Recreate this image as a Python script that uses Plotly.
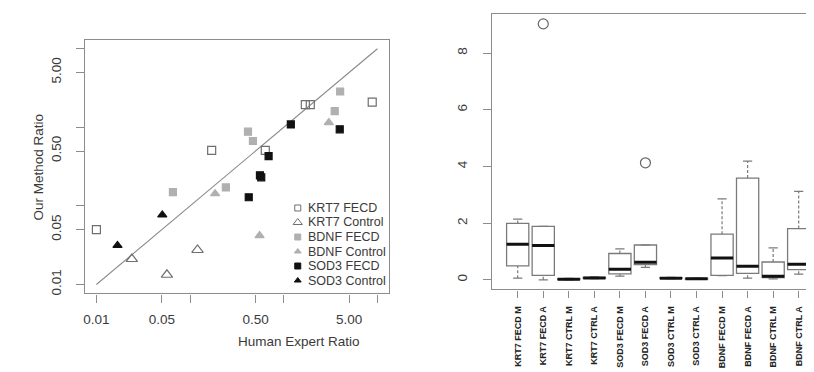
import plotly.graph_objects as go

# ---------------- Left panel data (scatter, log-log) ----------------
krt7_fecd_x = [0.010, 0.17, 0.635, 1.70, 1.92, 8.8]
krt7_fecd_y = [0.050, 0.51, 0.51, 1.95, 1.95, 2.09]
krt7_ctrl_x = [0.0239, 0.0566, 0.12]
krt7_ctrl_y = [0.0211, 0.0133, 0.0275]
bdnf_fecd_x = [0.0656, 0.241, 0.415, 0.469, 3.5, 4.0]
bdnf_fecd_y = [0.150, 0.172, 0.88, 0.67, 1.61, 2.86]
bdnf_ctrl_x = [0.185, 0.552, 3.03]
bdnf_ctrl_y = [0.143, 0.042, 1.15]
sod3_fecd_x = [0.423, 0.557, 0.575, 0.689, 1.19, 3.96]
sod3_fecd_y = [0.129, 0.245, 0.231, 0.43, 1.09, 0.945]
sod3_ctrl_x = [0.0168, 0.0505]
sod3_ctrl_y = [0.0314, 0.0769]
identity_line = [0.01, 10]

log_tickvals = [0.01, 0.05, 0.1, 0.5, 1, 5, 10]
log_ticktext = ["0.01", "0.05", "", "0.50", "", "5.00", ""]

legend_names = ["KRT7 FECD", "KRT7 Control", "BDNF FECD", "BDNF Control", "SOD3 FECD", "SOD3 Control"]

# ---------------- Right panel data (boxplots) ----------------
box_labels = ["KRT7 FECD M", "KRT7 FECD A", "KRT7 CTRL M", "KRT7 CTRL A",
              "SOD3 FECD M", "SOD3 FECD A", "SOD3 CTRL M", "SOD3 CTRL A",
              "BDNF FECD M", "BDNF FECD A", "BDNF CTRL M", "BDNF CTRL A"]
box_lower = [0.06, 0.00, 0.00, 0.04, 0.13, 0.44, 0.04, 0.02, 0.15, 0.06, 0.035, 0.20]
box_q1 = [0.49, 0.16, 0.01, 0.05, 0.21, 0.54, 0.05, 0.03, 0.16, 0.23, 0.08, 0.36]
box_median = [1.26, 1.21, 0.02, 0.07, 0.37, 0.62, 0.06, 0.04, 0.77, 0.48, 0.13, 0.55]
box_q3 = [1.99, 1.89, 0.04, 0.09, 0.93, 1.23, 0.08, 0.05, 1.61, 3.59, 0.63, 1.81]
box_upper = [2.14, 1.89, 0.05, 0.11, 1.09, 1.23, 0.09, 0.06, 2.86, 4.19, 1.13, 3.12]
outlier_pos = [2, 6]
outlier_val = [9.03, 4.13]
box_yticks = [0, 2, 4, 6, 8]

# ---------------- styles ----------------
FONT = "Liberation Sans, Arial, sans-serif"
FRAME = "#8c8c8c"
TXT = "#3a3a3a"
KRT7_C = "#6e6e6e"
BDNF_C = "#b0b0b0"
SOD3_C = "#111111"
BOX_LINE = "#7a7a7a"
HALF_W = 0.435
STAPLE_HALF = 0.18

fig = go.Figure()

# identity line
fig.add_trace(go.Scatter(x=identity_line, y=identity_line, mode="lines",
                         line=dict(color="#8a8a8a", width=1.1),
                         xaxis="x", yaxis="y", showlegend=False, hoverinfo="skip"))

series = [
    (krt7_fecd_x, krt7_fecd_y, "square-open", KRT7_C, 8),
    (krt7_ctrl_x, krt7_ctrl_y, "triangle-up-open", KRT7_C, 10),
    (bdnf_fecd_x, bdnf_fecd_y, "square", BDNF_C, 7),
    (bdnf_ctrl_x, bdnf_ctrl_y, "triangle-up", BDNF_C, 8),
    (sod3_fecd_x, sod3_fecd_y, "square", SOD3_C, 7),
    (sod3_ctrl_x, sod3_ctrl_y, "triangle-up", SOD3_C, 8),
]
for (sx, sy, sym, col, sz), name in zip(series, legend_names):
    fig.add_trace(go.Scatter(x=sx, y=sy, mode="markers", name=name,
                             marker=dict(symbol=sym, color=col, size=sz,
                                         line=dict(color=col, width=1.2)),
                             xaxis="x", yaxis="y", showlegend=False))

# manual legend (R style, no box) on an overlay axis in frame fractions
leg_top, leg_step = 0.337, 0.0572
leg_y = [leg_top - i * leg_step for i in range(len(legend_names))]
for i, ((sx, sy, sym, col, sz), name) in enumerate(zip(series, legend_names)):
    fig.add_trace(go.Scatter(x=[0.70], y=[leg_y[i]], mode="markers",
                             marker=dict(symbol=sym, color=col, size=max(sz - 2, 6),
                                         line=dict(color=col, width=1)),
                             xaxis="x3", yaxis="y3", showlegend=False, hoverinfo="skip"))
    fig.add_annotation(x=0.726, y=leg_y[i], xref="x3", yref="y3", text=name,
                       showarrow=False, xanchor="left", yanchor="middle",
                       font=dict(family=FONT, size=12.5, color=TXT))

# ---------------- boxplots ----------------
pos = list(range(1, len(box_labels) + 1))
fig.add_trace(go.Box(x=pos, q1=box_q1, median=box_median, q3=box_q3,
                     lowerfence=box_q1, upperfence=box_q3,
                     width=2 * HALF_W, whiskerwidth=0,
                     fillcolor="white", line=dict(color=BOX_LINE, width=1.3),
                     xaxis="x2", yaxis="y2", showlegend=False, boxpoints=False))

# dashed whiskers
wx, wy = [], []
for p, lo, a, b, hi in zip(pos, box_lower, box_q1, box_q3, box_upper):
    wx += [p, p, None, p, p, None]
    wy += [b, hi, None, lo, a, None]
fig.add_trace(go.Scatter(x=wx, y=wy, mode="lines",
                         line=dict(color=BOX_LINE, width=1.2, dash="3px,2px"),
                         xaxis="x2", yaxis="y2", showlegend=False, hoverinfo="skip"))
# staples
sx_, sy_ = [], []
for p, lo, hi in zip(pos, box_lower, box_upper):
    sx_ += [p - STAPLE_HALF, p + STAPLE_HALF, None, p - STAPLE_HALF, p + STAPLE_HALF, None]
    sy_ += [hi, hi, None, lo, lo, None]
fig.add_trace(go.Scatter(x=sx_, y=sy_, mode="lines",
                         line=dict(color=BOX_LINE, width=1.2),
                         xaxis="x2", yaxis="y2", showlegend=False, hoverinfo="skip"))
# thick medians
mx, my = [], []
for p, m in zip(pos, box_median):
    mx += [p - HALF_W, p + HALF_W, None]
    my += [m, m, None]
fig.add_trace(go.Scatter(x=mx, y=my, mode="lines",
                         line=dict(color="#111111", width=3),
                         xaxis="x2", yaxis="y2", showlegend=False, hoverinfo="skip"))
# outliers
fig.add_trace(go.Scatter(x=outlier_pos, y=outlier_val, mode="markers",
                         marker=dict(symbol="circle-open", size=10, color="#666666",
                                     line=dict(width=1.2)),
                         xaxis="x2", yaxis="y2", showlegend=False))

axis_common = dict(showline=True, linecolor=FRAME, linewidth=1.2, mirror=True,
                   ticks="outside", ticklen=8, tickcolor=FRAME, tickwidth=1.2,
                   showgrid=False, zeroline=False,
                   tickfont=dict(family=FONT, size=13.5, color=TXT))

fig.update_layout(
    width=814, height=372,
    margin=dict(l=0, r=0, t=0, b=0),
    paper_bgcolor="white", plot_bgcolor="white",
    showlegend=False,
    xaxis=dict(axis_common, type="log", domain=[0.0921, 0.4668], range=[-2.124, 1.124],
               tickvals=log_tickvals, ticktext=log_ticktext, ticklabelstandoff=5,
               anchor="y"),
    yaxis=dict(axis_common, type="log", domain=[0.2285, 0.914], range=[-2.114, 1.114],
               tickvals=log_tickvals, ticktext=log_ticktext, tickangle=-90,
               ticklabelstandoff=9, anchor="x"),
    xaxis3=dict(domain=[0.0921, 0.4668], range=[0, 1], visible=False, anchor="y3",
                overlaying="x"),
    yaxis3=dict(domain=[0.2285, 0.914], range=[0, 1], visible=False, anchor="x3",
                overlaying="y"),
    xaxis2=dict(axis_common, domain=[0.5937, 0.9971], range=[-0.003, 12.82],
                tickvals=pos, ticktext=box_labels, tickangle=-90, ticklen=7,
                ticklabelstandoff=5,
                tickfont=dict(family=FONT, size=9, color="#222222", weight="bold"),
                anchor="y2"),
    yaxis2=dict(axis_common, domain=[0.2392, 0.9839], range=[-0.34, 9.38],
                tickvals=box_yticks, tickangle=-90, ticklabelstandoff=11,
                anchor="x2"),
)

fig.add_annotation(x=19 / 814, y=1 - 160 / 372, xref="paper", yref="paper",
                   text="Our Method Ratio", textangle=-90, showarrow=False,
                   font=dict(family=FONT, size=13.5, color=TXT))
fig.add_annotation(x=227 / 814, y=1 - 345 / 372, xref="paper", yref="paper",
                   text="Human Expert Ratio", showarrow=False,
                   font=dict(family=FONT, size=13.5, color=TXT))

fig.write_html("out.html")
